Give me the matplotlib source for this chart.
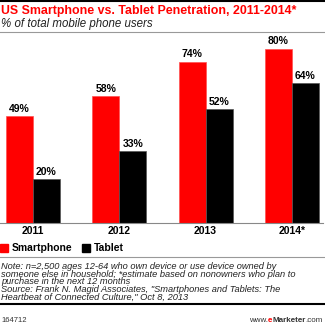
import numpy as np
import matplotlib
matplotlib.use('Agg')
import matplotlib.pyplot as plt
from matplotlib.lines import Line2D
from matplotlib.patches import Rectangle

plt.rcParams['font.family'] = ['Liberation Sans', 'DejaVu Sans']

years = ['2011', '2012', '2013', '2014*']
smartphone = [49, 58, 74, 80]
tablet = [20, 33, 52, 64]

RED = '#ff0000'
W, H = 325, 327

fig = plt.figure(figsize=(W / 100, H / 100), dpi=100)

def fy(py):
    # pixel row from top -> figure fraction
    return 1 - py / H

def fx(px):
    return px / W

# chart axes: baseline at y=222.5 px, 2.175 px per percent
base = 222.5
top = 40
ax = fig.add_axes([0, fy(base), 323 / W, (base - top) / H])
x = np.arange(len(years))
bw = 27 / 86.3
ax.bar(x - bw / 2, smartphone, bw, color=RED, edgecolor='#ff5050', linewidth=0.5)
ax.bar(x + bw / 2, tablet, bw, color='black', edgecolor='#555555', linewidth=0.5)
for xi, s, t in zip(x, smartphone, tablet):
    ax.text(xi - bw / 2, s + 1, f'{s}%', ha='center', va='bottom', fontsize=7.5, fontweight='bold')
    ax.text(xi + bw / 2, t + 1, f'{t}%', ha='center', va='bottom', fontsize=7.5, fontweight='bold')
ax.set_xlim(-33 / 86.3, 290 / 86.3)
ax.set_ylim(0, (base - top) / 2.175)
ax.set_xticks(x)
ax.set_xticklabels(years, fontsize=7.5, fontweight='bold')
ax.tick_params(axis='x', length=0, pad=2.5)
ax.set_yticks([])
for s in ['top', 'right', 'left']:
    ax.spines[s].set_visible(False)
ax.spines['bottom'].set_color('#888888')
ax.spines['bottom'].set_linewidth(0.8)
ax.patch.set_alpha(0)

# header
fig.add_artist(Line2D([0, 1], [fy(1), fy(1)], color='black', linewidth=1.5))
fig.text(fx(1), fy(11), 'US Smartphone vs. Tablet Penetration, 2011-2014*', color=RED,
         fontsize=8.9, fontweight='bold', va='center', ha='left')
fig.text(fx(1), fy(24), '% of total mobile phone users', fontsize=8.3, style='italic',
         va='center', ha='left', color='#222222')
fig.add_artist(Line2D([0, 1], [fy(32), fy(32)], color='#999999', linewidth=0.8))

# legend
fig.add_artist(Rectangle((fx(0), fy(252)), 8 / W, 8 / H, color=RED))
fig.text(fx(12), fy(248), 'Smartphone', fontsize=7.5, fontweight='bold', va='center')
fig.add_artist(Rectangle((fx(82), fy(252)), 8 / W, 8 / H, color='black'))
fig.text(fx(94), fy(248), 'Tablet', fontsize=7.5, fontweight='bold', va='center')
fig.add_artist(Line2D([0, 1], [fy(257), fy(257)], color='#999999', linewidth=0.8))

notes = ['Note: n=2,500 ages 12-64 who own device or use device owned by',
         'someone else in household; *estimate based on nonowners who plan to',
         'purchase in the next 12 months',
         'Source: Frank N. Magid Associates, "Smartphones and Tablets: The',
         'Heartbeat of Connected Culture," Oct 8, 2013']
fig.text(fx(1), fy(262), '\n'.join(notes), fontsize=6.7, style='italic',
         va='top', ha='left', color='#222222', linespacing=0.82)

fig.add_artist(Line2D([0, 1], [fy(303.5), fy(303.5)], color='black', linewidth=1.5))
fig.text(fx(1), fy(320), '164712', fontsize=5.5, va='center', ha='left', color='#333333')

# footer: www.eMarketer.com with red e, laid out left to right
parts = [('www.', '#333333', 'normal'), ('e', RED, 'bold'),
         ('Marketer', '#333333', 'bold'), ('.com', '#333333', 'normal')]
renderer = fig.canvas.get_renderer()
widths = []
for txt, col, wt in parts:
    t = fig.text(0, 0, txt, fontsize=5.8, fontweight=wt)
    widths.append(t.get_window_extent(renderer).width)
    t.remove()
xl = 323 - sum(widths)
for (txt, col, wt), w in zip(parts, widths):
    fig.text(xl / W, fy(320), txt, fontsize=5.8, va='center', ha='left',
             color=col, fontweight=wt)
    xl += w

fig.savefig('out.png', dpi=100)
